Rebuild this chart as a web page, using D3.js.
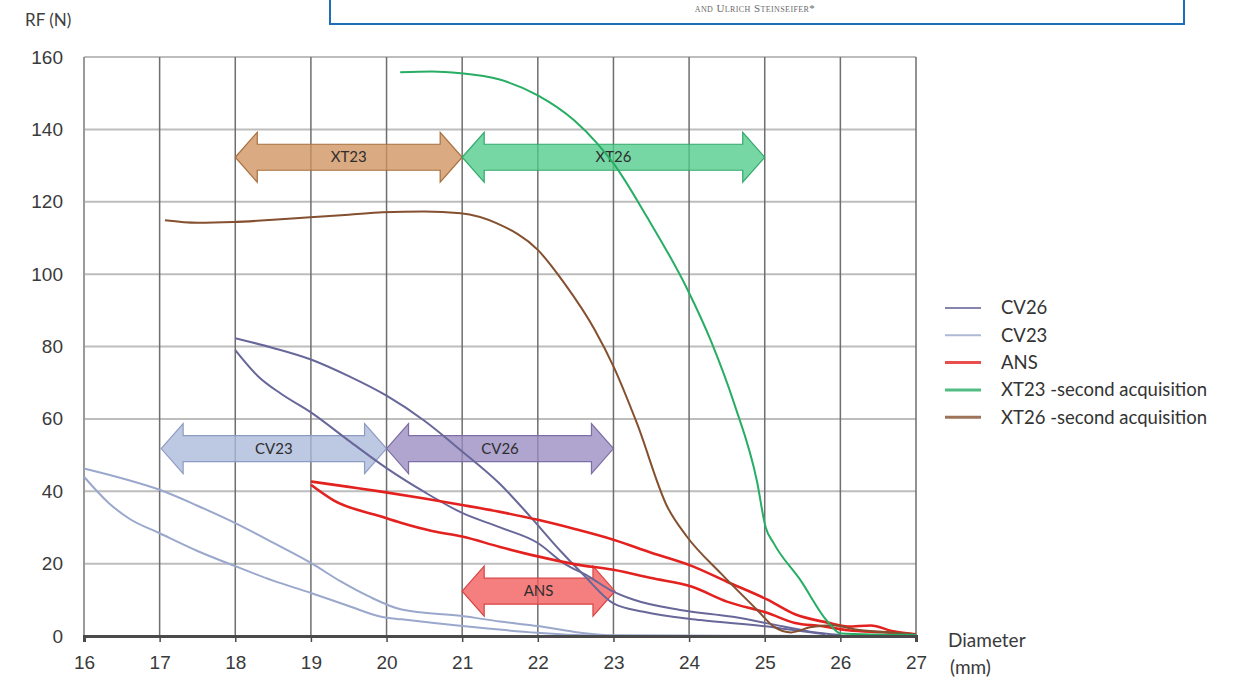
<!DOCTYPE html>
<html>
<head>
<meta charset="utf-8">
<script src="https://cdn.jsdelivr.net/npm/d3@7"></script>
<style>
  body { margin: 0; background: #fff; }
  svg { font-family: Lato, "Open Sans", sans-serif; }
  .tick text { fill: #3a3a3a; font-size: 19px; }
  .arrowText { fill: #2e2e2e; font-size: 15px; }
  .legendText { fill: #333; font-size: 18.5px; }
</style>
</head>
<body>
<div id="chart"></div>
<script>
const xTicks = [16, 17, 18, 19, 20, 21, 22, 23, 24, 25, 26, 27]
const yTicks = [0, 20, 40, 60, 80, 100, 120, 140, 160]

// [diameter mm, radial force N]
const cv26Upper = [[18.0,82.3],[18.5,79.6],[19,76.4],[19.5,71.8],[20,66.4],[20.5,59.5],[21,51],[21.5,42],[21.9,33],[22.3,23.5],[22.6,17],[23,9],[23.4,6.7],[24.15,4.4],[25.04,2.6],[25.35,1.7],[25.8,0.5]]
const cv26Lower = [[18.0,79],[18.3,71.8],[18.6,67],[19,61.8],[19.5,54],[20,46.4],[20.5,39.8],[21,34],[21.5,30],[22,25.7],[22.35,20],[22.67,16.5],[22.96,12.7],[23.27,10],[23.88,7.2],[24.58,5.3],[25.25,2.6],[25.6,1.2],[26,0.3]]
const cv23Upper = [[16,46.3],[16.5,43.6],[17,40.4],[17.5,36],[18,31.2],[18.5,25.8],[19,20.2],[19.4,15],[19.76,11],[20.2,7.3],[21,5.5],[21.5,4],[22,2.75],[22.57,0.9],[23,0.2],[24.5,0.1],[26,0]]
const cv23Lower = [[16,44],[16.33,36.7],[16.6,32.4],[17,28.4],[17.5,23.5],[18,19.3],[18.5,15.3],[19,11.9],[19.5,8.3],[19.93,5.3],[20.2,4.6],[21,2.75],[22,0.9],[22.6,0.2],[23.5,0]]
const ansUpper = [[19,42.7],[19.5,41.2],[19.93,39.9],[20.5,38],[21,36.2],[21.5,34.3],[22,32.1],[22.5,29.5],[23,26.6],[23.5,23],[24.04,19.3],[24.5,15],[25.03,10.1],[25.4,6],[25.83,3.7],[26.1,2.6],[26.4,2.9],[26.7,1.3],[27,0.5]]
const ansLower = [[19,41.8],[19.3,37.5],[19.93,33],[20.2,31.2],[20.6,29],[21,27.5],[21.5,24.6],[22,22],[22.5,19.8],[23,18.3],[23.5,16],[24.04,13.6],[24.5,9.5],[25.03,6.4],[25.4,3.6],[25.74,2.75],[26.1,1.6],[26.6,1],[27,0.4]]
const xt23Curve = [[20.18,155.8],[20.6,156],[20.98,155.5],[21.47,153.9],[22,149.4],[22.48,142.5],[22.79,136],[23,130.6],[23.44,115.9],[23.98,95.7],[24.29,81.5],[24.6,64],[24.9,42.5],[25.01,30.2],[25.12,25.6],[25.47,15.5],[25.83,4],[26,0.7],[26.5,0.4],[27,0.3]]
const xt26Curve = [[17.07,114.9],[17.5,114.2],[17.97,114.4],[18.5,115],[18.99,115.7],[19.5,116.4],[19.95,117.1],[20.5,117.3],[20.98,116.8],[21.46,114],[22,106.7],[22.35,97.5],[22.75,84.7],[23,74.5],[23.31,58.8],[23.71,35.8],[23.97,27.5],[24.42,17.3],[24.9,7.2],[25.12,2.6],[25.35,1],[25.6,2.4],[25.9,3],[26.2,1.8],[26.6,1.1],[27,0.5]]

const seriesNames = ["CV26", "CV23", "ANS", "XT23 -second acquisition", "XT26 -second acquisition"]
const seriesColors = ["#67679a", "#9aa8cc", "#e3211f", "#27ad64", "#84502f"]

// [label, from mm, to mm, RF centre]
const arrowNames = ["XT23", "XT26", "CV23", "CV26", "ANS"]
const arrowFrom = [18, 21, 17.02, 20, 21]
const arrowTo = [21, 25, 20, 23, 23.02]
const arrowAt = [132.3, 132.3, 51.8, 51.8, 12.4]
const arrowFill = ["#d0925f", "#4fcc8a", "#aab8da", "#9a8cc0", "#f25a5a"]
const arrowStroke = ["#a8703f", "#33a96a", "#8e9cc4", "#7d6fa6", "#d84545"]

const width = 1234
const height = 685

const x = d3.scaleLinear().domain([16, 27]).range([84, 916])
const y = d3.scaleLinear().domain([0, 160]).range([636, 57])

const svg = d3.select("#chart").append("svg")
  .attr("width", width)
  .attr("height", height)

svg.append("rect").attr("width", width).attr("height", height).attr("fill", "#fff")

// header box cut from the page above
svg.append("rect")
  .attr("x", 330).attr("y", -4)
  .attr("width", 854).attr("height", 28)
  .attr("fill", "none")
  .attr("stroke", "#1f6fb8")
  .attr("stroke-width", 2)
svg.append("text")
  .attr("x", 755).attr("y", 12)
  .attr("text-anchor", "middle")
  .attr("font-size", 11)
  .attr("letter-spacing", 0.4)
  .attr("font-family", "Liberation Serif, serif")
  .style("font-variant", "small-caps")
  .attr("fill", "#6a6a6a")
  .text("and Ulrich Steinseifer*")

// gridlines
svg.append("g").attr("class", "hgrid")
  .selectAll("line")
  .data(yTicks.filter(d => d > 0))
  .join("line")
  .attr("x1", x(16)).attr("x2", x(27))
  .attr("y1", d => y(d)).attr("y2", d => y(d))
  .attr("stroke", "#bdbdbd")
  .attr("stroke-width", 2)

svg.append("g").attr("class", "vgrid")
  .selectAll("line")
  .data(xTicks)
  .join("line")
  .attr("x1", d => x(d)).attr("x2", d => x(d))
  .attr("y1", y(160)).attr("y2", y(0))
  .attr("stroke", d => d == 16 ? "#9a9a9a" : "#6e6e6e")
  .attr("stroke-width", d => d == 16 ? 2 : 1.5)

// double arrows
const arrows = svg.append("g").attr("class", "arrows")
  .selectAll("g")
  .data(arrowNames.map((name, i) => ({ name, from: arrowFrom[i], to: arrowTo[i], at: arrowAt[i], fill: arrowFill[i], stroke: arrowStroke[i] })))
  .join("g")

arrows.append("path")
  .attr("d", d => {
    const x0 = x(d.from), x1 = x(d.to), cy = y(d.at)
    const head = 22, hh = 25, sh = 13
    return `M${x0},${cy}L${x0 + head},${cy - hh}L${x0 + head},${cy - sh}L${x1 - head},${cy - sh}L${x1 - head},${cy - hh}` +
      `L${x1},${cy}L${x1 - head},${cy + hh}L${x1 - head},${cy + sh}L${x0 + head},${cy + sh}L${x0 + head},${cy + hh}Z`
  })
  .attr("fill", d => d.fill)
  .attr("fill-opacity", 0.78)
  .attr("stroke", d => d.stroke)
  .attr("stroke-width", 1.2)

arrows.append("text")
  .attr("class", "arrowText")
  .attr("x", d => x((d.from + d.to) / 2))
  .attr("y", d => y(d.at))
  .attr("dy", "0.35em")
  .attr("text-anchor", "middle")
  .text(d => d.name)

// curves
const line = d3.line()
  .x(d => x(d[0]))
  .y(d => y(d[1]))
  .curve(d3.curveMonotoneX)

const curves = [
  { data: cv23Upper, c: 1 }, { data: cv23Lower, c: 1 },
  { data: cv26Upper, c: 0 }, { data: cv26Lower, c: 0 },
  { data: ansUpper, c: 2 }, { data: ansLower, c: 2 },
  { data: xt26Curve, c: 4 }, { data: xt23Curve, c: 3 }
]

svg.append("g").attr("class", "curves")
  .selectAll("path")
  .data(curves)
  .join("path")
  .attr("d", d => line(d.data))
  .attr("fill", "none")
  .attr("stroke", d => seriesColors[d.c])
  .attr("stroke-width", d => d.c == 2 ? 2.6 : 2)
  .attr("stroke-linejoin", "round")

// axes
const xAxis = svg.append("g")
  .attr("transform", `translate(0, ${y(0)})`)
  .call(d3.axisBottom(x).tickValues(xTicks).tickFormat(d3.format("d")).tickSize(6).tickPadding(14))
xAxis.select(".domain").attr("stroke", "#4a4a4a").attr("stroke-width", 3)
xAxis.selectAll(".tick line").attr("stroke", "#4a4a4a").attr("stroke-width", 1.5)

const yAxis = svg.append("g")
  .attr("transform", `translate(63, 0)`)
  .call(d3.axisLeft(y).tickValues(yTicks).tickSize(0).tickPadding(0))
yAxis.select(".domain").remove()
yAxis.selectAll(".tick text").attr("text-anchor", "end")

svg.append("text")
  .attr("x", 25).attr("y", 26)
  .attr("font-size", 17)
  .attr("fill", "#404040")
  .text("RF (N)")

svg.append("text")
  .attr("x", 948).attr("y", 647)
  .attr("font-size", 19)
  .attr("fill", "#3a3a3a")
  .text("Diameter")
svg.append("text")
  .attr("x", 950).attr("y", 674)
  .attr("font-size", 19)
  .attr("fill", "#3a3a3a")
  .text("(mm)")

// legend
const legend = svg.append("g").attr("class", "legend")
  .selectAll("g")
  .data(seriesNames)
  .join("g")
  .attr("transform", (d, i) => `translate(945, ${308 + i * 27.3})`)

legend.append("line")
  .attr("x1", 0).attr("x2", 36)
  .attr("stroke", (d, i) => seriesColors[i])
  .attr("stroke-width", (d, i) => i >= 2 ? 3 : 2)
  .attr("stroke-opacity", 0.8)

legend.append("text")
  .attr("class", "legendText")
  .attr("x", 56)
  .attr("dy", "0.35em")
  .text(d => d)
</script>
</body>
</html>
